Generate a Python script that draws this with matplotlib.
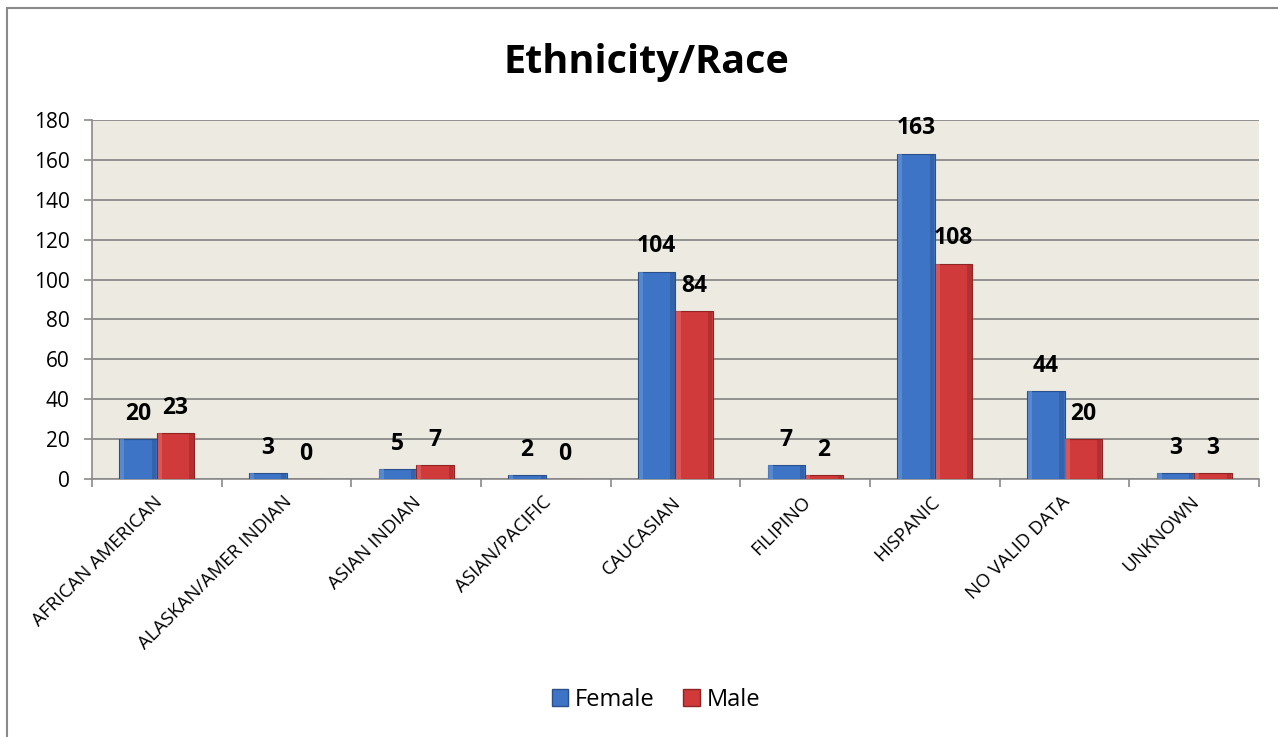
import matplotlib
matplotlib.use("Agg")
import matplotlib.pyplot as plt
from matplotlib.patches import Rectangle
import numpy as np

categories = ["AFRICAN AMERICAN", "ALASKAN/AMER INDIAN", "ASIAN INDIAN", "ASIAN/PACIFIC",
              "CAUCASIAN", "FILIPINO", "HISPANIC", "NO VALID DATA", "UNKNOWN"]
female = [20, 3, 5, 2, 104, 7, 163, 44, 3]
male = [23, 0, 7, 0, 84, 2, 108, 20, 3]
y_ticks = [0, 20, 40, 60, 80, 100, 120, 140, 160, 180]

FONT = ["Open Sans", "DejaVu Sans"]
plt.rcParams["font.family"] = FONT

blue, blue_dark, blue_light = "#3D74C6", "#2A4F8A", "#6A98DA"
red, red_dark, red_light = "#D03A3A", "#8E2424", "#E26A6A"

fig = plt.figure(figsize=(12.78, 7.37), dpi=100)
ax = fig.add_axes([92 / 1278, 1 - 479 / 737, (1259 - 92) / 1278, (479 - 120) / 737])
ax.set_facecolor("#EDEBE1")

x = np.arange(len(categories))
w = 0.29


def bevel_bars(xpos, vals, base, dark, light):
    ax.bar(xpos, vals, w, color=base, edgecolor=dark, linewidth=0.8, zorder=3)
    # lighter left rim and darker right rim give a bevelled look
    ax.bar(xpos - w * 0.42, vals, w * 0.12, color=light, linewidth=0, zorder=4, alpha=0.6)
    ax.bar(xpos + w * 0.42, vals, w * 0.12, color=dark, linewidth=0, zorder=4, alpha=0.45)


bevel_bars(x - w / 2, female, blue, blue_dark, blue_light)
bevel_bars(x + w / 2, male, red, red_dark, red_light)

for xpos, vals in ((x - w / 2, female), (x + w / 2, male)):
    for xi, v in zip(xpos, vals):
        ax.annotate(str(v), (xi, v), xytext=(0, 14), textcoords="offset points",
                    ha="center", va="baseline", fontsize=16.5, fontweight="bold", zorder=5)

ax.set_xlim(-0.5, len(categories) - 0.5)
ax.set_ylim(0, 180)
ax.set_yticks(y_ticks)
ax.set_yticklabels([str(t) for t in y_ticks], fontsize=15)
ax.yaxis.grid(True, color="#8A8A8A", linewidth=1.3, zorder=0)
ax.set_axisbelow(True)

ax.set_xticks(np.arange(len(categories) + 1) - 0.5)
ax.set_xticklabels([])
ax.tick_params(axis="x", length=6, color="#8A8A8A", width=1.2)
ax.tick_params(axis="y", length=6, color="#8A8A8A", width=1.2, pad=10)
for xi, name in zip(x, categories):
    ax.text(xi - 0.03, -7, name, rotation=45, ha="right", va="top",
            rotation_mode="anchor", fontsize=13.5)

for side in ["top", "right"]:
    ax.spines[side].set_visible(False)
for side in ["left", "bottom"]:
    ax.spines[side].set_color("#8A8A8A")
    ax.spines[side].set_linewidth(1.2)

fig.text(646 / 1278, 1 - 73 / 737, "Ethnicity/Race", ha="center", va="baseline",
         fontsize=28.5, fontweight="bold")

handles = [Rectangle((0, 0), 1, 1, facecolor=blue, edgecolor=blue_dark),
           Rectangle((0, 0), 1, 1, facecolor=red, edgecolor=red_dark)]
fig.legend(handles, ["Female", "Male"], loc="center", bbox_to_anchor=(656 / 1278, 1 - 700 / 737),
           ncol=2, frameon=False, fontsize=17, handlelength=0.7, handleheight=0.7,
           handletextpad=0.3, columnspacing=1.2)

fig.patches.append(Rectangle((7 / 1278, -0.1), 1.2, 1 - 8 / 737 + 0.1, transform=fig.transFigure,
                             fill=False, edgecolor="#8A8A8A", linewidth=1.5))

fig.savefig("out.png", dpi=100, facecolor="white")
